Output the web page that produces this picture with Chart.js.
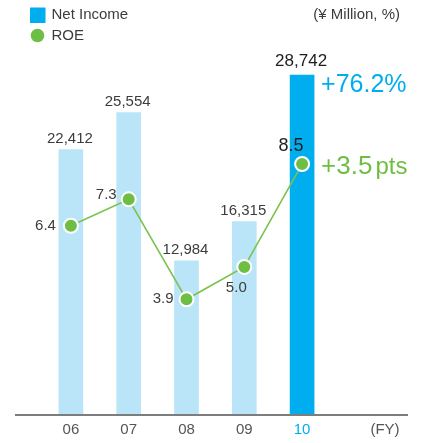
<!DOCTYPE html>
<html>
<head>
<meta charset="utf-8">
<script src="https://cdn.jsdelivr.net/npm/chart.js@4/dist/chart.umd.min.js"></script>
<style>
html,body{margin:0;padding:0;background:#fff;}
#wrap{width:426px;height:443px;position:relative;}
</style>
</head>
<body>
<div id="wrap"><canvas id="c" width="426" height="443"></canvas></div>
<script>
const categories = ['06', '07', '08', '09', '10'];
const netIncome = [22412, 25554, 12984, 16315, 28742];
const roe = [6.4, 7.3, 3.9, 5.0, 8.5];
const legendLabels = ['Net Income', 'ROE'];
const unitLabel = '(¥ Million, %)';
const axisSuffix = '(FY)';
const incomeChange = '+76.2%';
const roeChange = '+3.5';
const roeChangeUnit = 'pts';

const FONT = '"Liberation Sans", Arial, sans-serif';
const BLUE = '#00aeef';
const LIGHT = '#bae5f9';
const GREEN = '#6fbe44';
const TEXT = '#3c3c3c';

const fmt = v => v.toLocaleString('en-US');

const labelPlugin = {
  id: 'labels',
  afterDraw(chart) {
    const ctx = chart.ctx;
    const area = chart.chartArea;
    ctx.save();
    // baseline
    ctx.strokeStyle = '#7d7d7d';
    ctx.lineWidth = 2;
    ctx.beginPath();
    ctx.moveTo(15, area.bottom + 1);
    ctx.lineTo(408, area.bottom + 1);
    ctx.stroke();

    // bar values
    const barMeta = chart.getDatasetMeta(0);
    barMeta.data.forEach((el, i) => {
      const last = i === netIncome.length - 1;
      ctx.font = (last ? '17px ' : '15px ') + FONT;
      ctx.fillStyle = last ? '#1e1e1e' : TEXT;
      ctx.textAlign = 'center';
      ctx.textBaseline = 'middle';
      ctx.fillText(fmt(netIncome[i]), el.x - 1, el.y - (last ? 14 : 10.5));
    });

    // ROE values
    const lineMeta = chart.getDatasetMeta(1);
    const pos = [
      {dx: -15, dy: 0.5, align: 'right'},
      {dx: -12, dy: -4, align: 'right'},
      {dx: -13, dy: 0, align: 'right'},
      {dx: -8, dy: 20.5, align: 'center'},
      {dx: -11, dy: -18, align: 'center'}
    ];
    lineMeta.data.forEach((el, i) => {
      const last = i === roe.length - 1;
      const p = pos[i];
      ctx.font = (last ? '18px ' : '15px ') + FONT;
      ctx.fillStyle = last ? '#1e1e1e' : TEXT;
      ctx.textAlign = p.align;
      ctx.textBaseline = 'middle';
      ctx.fillText(roe[i].toFixed(1), el.x + p.dx, el.y + p.dy);
    });

    // change annotations
    const lastBar = barMeta.data[barMeta.data.length - 1];
    const lastPt = lineMeta.data[lineMeta.data.length - 1];
    ctx.textAlign = 'left';
    ctx.textBaseline = 'middle';
    ctx.font = '25px ' + FONT;
    ctx.fillStyle = BLUE;
    ctx.fillText(incomeChange, lastBar.x + 19, lastBar.y + 10);
    ctx.textBaseline = 'alphabetic';
    ctx.font = '26px ' + FONT;
    ctx.fillStyle = GREEN;
    ctx.fillText(roeChange, lastPt.x + 19, lastPt.y + 9.5);
    const w = ctx.measureText(roeChange).width;
    ctx.font = '24px ' + FONT;
    ctx.fillText(roeChangeUnit, lastPt.x + 19 + w + 3, lastPt.y + 9.5);

    // legend
    ctx.textBaseline = 'middle';
    ctx.fillStyle = BLUE;
    ctx.fillRect(30, 7.5, 15.5, 15.5);
    ctx.fillStyle = GREEN;
    ctx.beginPath();
    ctx.arc(37.5, 35.5, 6.8, 0, Math.PI * 2);
    ctx.fill();
    ctx.font = '15px ' + FONT;
    ctx.fillStyle = TEXT;
    ctx.textAlign = 'left';
    ctx.fillText(legendLabels[0], 51.5, 15);
    ctx.fillText(legendLabels[1], 51.5, 36);
    ctx.textAlign = 'right';
    ctx.fillText(unitLabel, 400, 15);

    // FY
    ctx.textAlign = 'center';
    ctx.fillStyle = '#555';
    ctx.fillText(axisSuffix, 385, 430);
    ctx.restore();
  }
};

new Chart(document.getElementById('c'), {
  type: 'bar',
  data: {
    labels: categories,
    datasets: [
      {
        type: 'bar',
        label: legendLabels[0],
        data: netIncome,
        yAxisID: 'y',
        backgroundColor: netIncome.map((v, i) => i === netIncome.length - 1 ? BLUE : LIGHT),
        barThickness: 24,
        order: 2
      },
      {
        type: 'line',
        label: legendLabels[1],
        data: roe,
        yAxisID: 'y1',
        borderColor: '#7cc24f',
        borderWidth: 1.6,
        pointRadius: 7,
        pointBackgroundColor: GREEN,
        pointBorderColor: '#fff',
        pointBorderWidth: 2,
        tension: 0,
        order: 1
      }
    ]
  },
  options: {
    responsive: false,
    animation: false,
    events: [],
    layout: {padding: {left: 42, right: 95, top: 40, bottom: 0}},
    plugins: {legend: {display: false}, tooltip: {enabled: false}},
    scales: {
      x: {
        offset: true,
        grid: {display: false, drawTicks: false},
        border: {display: false},
        ticks: {
          padding: 7,
          font: {family: FONT, size: 15},
          color: ctx => ctx.index === categories.length - 1 ? BLUE : '#555'
        },
        afterFit: s => { s.height = 29; }
      },
      y: {display: false, min: 0, max: 31708},
      y1: {display: false, min: 0, max: 12.717}
    }
  },
  plugins: [labelPlugin]
});
</script>
</body>
</html>
